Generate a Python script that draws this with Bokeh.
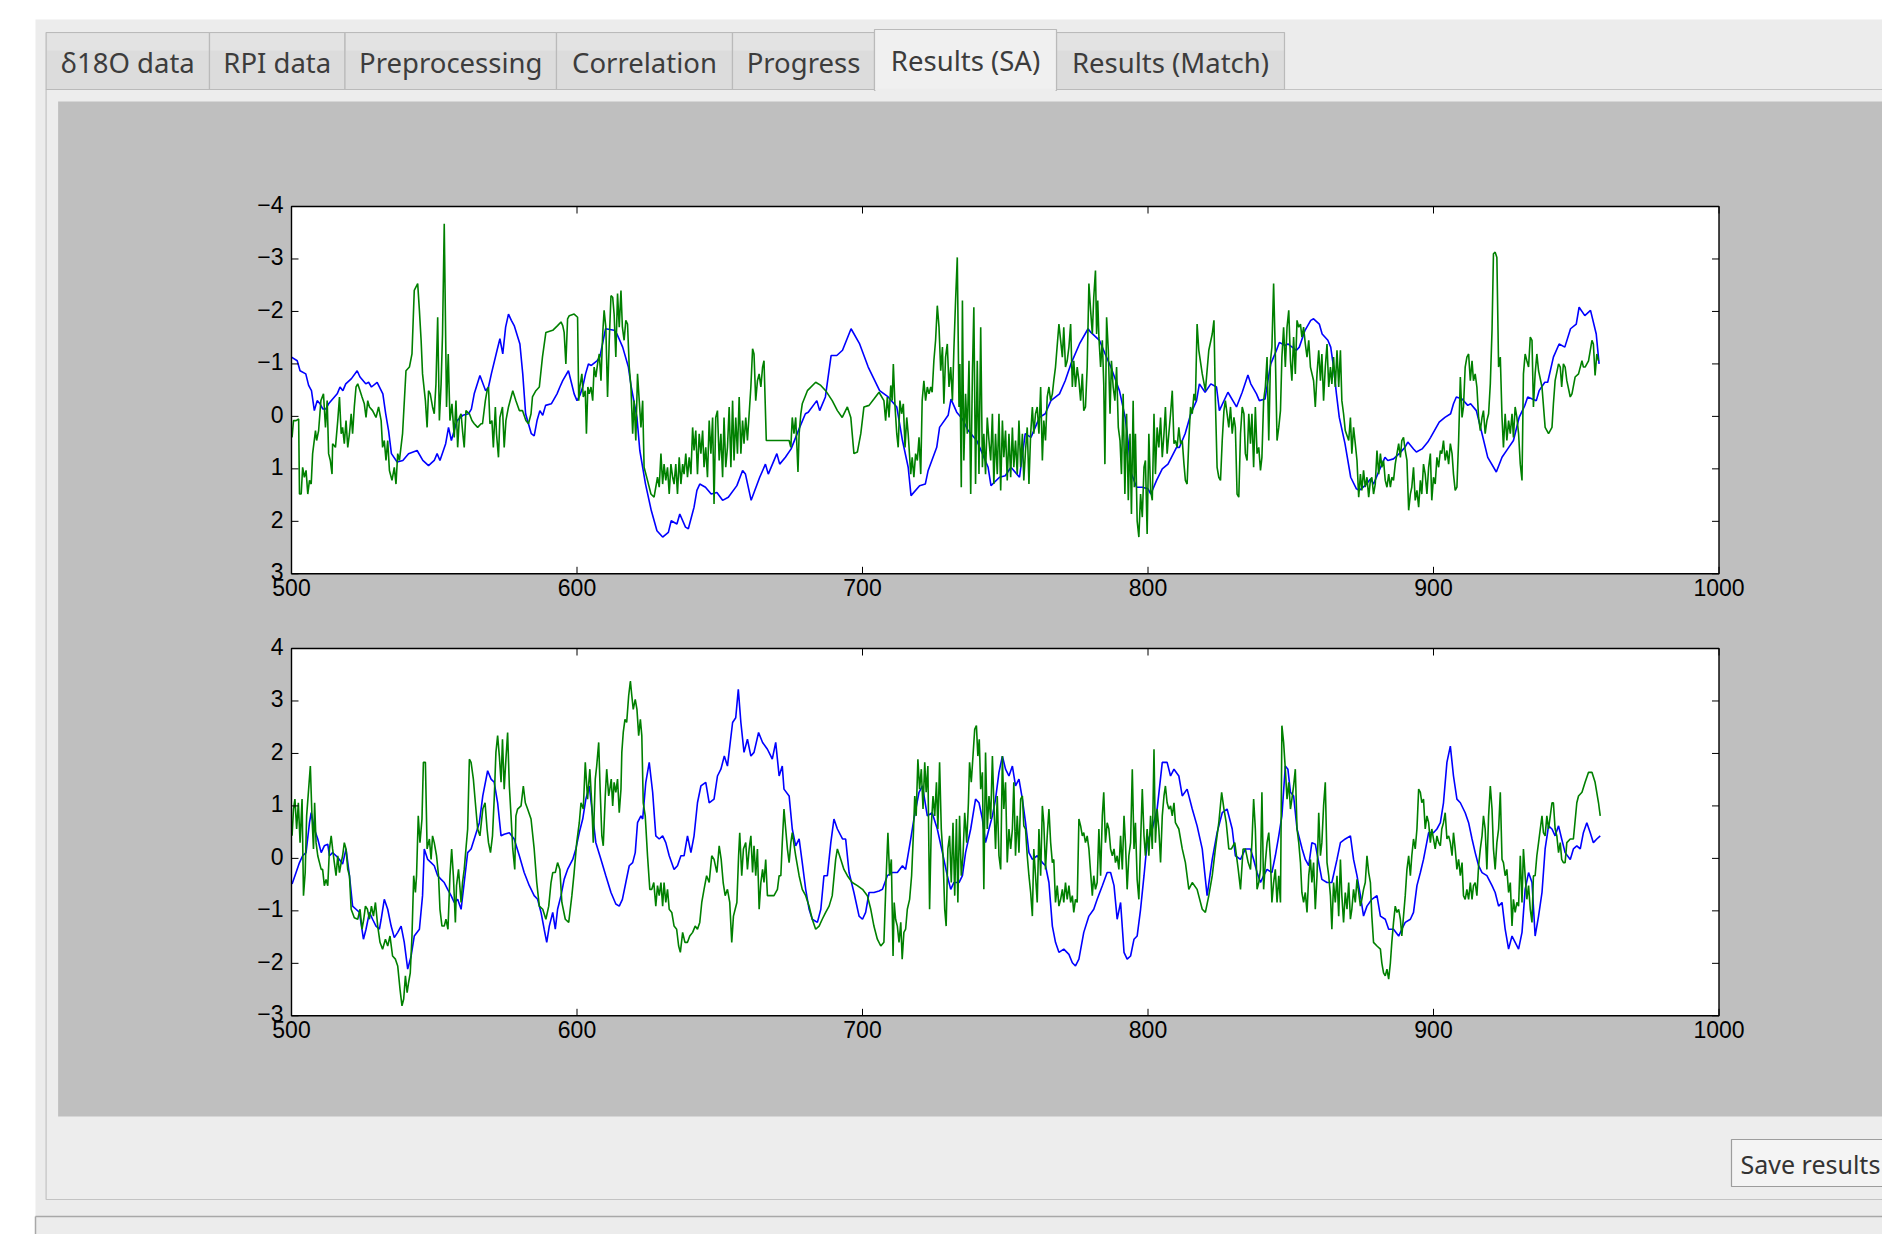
from bokeh.plotting import figure
from bokeh.models import Range1d
from bokeh.embed import file_html
from bokeh.resources import INLINE
from bokeh.core.properties import value

# ---------------- data ----------------
tab_labels = ["δ18O data", "RPI data", "Preprocessing", "Correlation", "Progress", "Results (SA)", "Results (Match)"]
selected_tab = "Results (SA)"
button_label = "Save results"

x_ticks = [500, 600, 700, 800, 900, 1000]
top_y_ticks = [-4, -3, -2, -1, 0, 1, 2, 3]
bot_y_ticks = [4, 3, 2, 1, 0, -1, -2, -3]

top_blue = [
    (500,-1.13),(502,-1.06),(503,-0.87),(505,-0.81),(506,-0.59),(507,-0.49),(508,-0.11),(509,-0.30),(510,-0.24),
    (511,-0.14),(512,-0.14),(513,-0.24),(516,-0.43),(517,-0.56),(518,-0.49),(519,-0.62),(521,-0.72),(523,-0.87),
    (524,-0.75),(526,-0.62),(527,-0.65),(528,-0.56),(530,-0.65),(532,-0.43),(533,-0.05),(534,0.27),(535,0.71),
    (537,0.87),(539,0.84),(541,0.71),(544,0.65),(546,0.84),(548,0.94),(550,0.84),(551,0.71),(552,0.84),(554,0.52),
    (555,0.21),(556,0.46),(558,0.08),(560,-0.02),(562,-0.05),(563,-0.14),(564,-0.43),(566,-0.78),(568,-0.49),
    (569,-0.56),(570,-0.81),(572,-1.26),(573,-1.48),(574,-1.19),(575,-1.70),(576,-1.95),(577,-1.83),(578,-1.73),
    (580,-1.38),(581,-0.81),(582,-0.05),(584,0.33),(585,0.37),(586,0.08),(587,-0.11),(588,-0.02),(589,-0.21),
    (591,-0.24),(593,-0.43),(594,-0.56),(595,-0.68),(597,-0.87),(598,-0.65),(599,-0.43),(600,-0.30),(601,-0.40),
    (602,-0.56),(603,-0.81),(604,-1.00),(605,-0.97),(607,-1.06),(608,-1.13),(610,-1.67),(613,-1.64),(614,-1.57),
    (616,-1.32),(618,-0.94),(619,-0.56),(621,0.02),(622,0.65),(624,1.29),(626,1.79),(628,2.18),(630,2.30),
    (632,2.21),(633,1.99),(635,2.05),(636,1.86),(638,2.11),(639,2.14),(641,1.73),(642,1.41),(643,1.29),(645,1.35),
    (647,1.48),(649,1.45),(651,1.60),(653,1.54),(656,1.32),(658,1.03),(659,1.10),(661,1.60),(664,1.16),(666,0.91),
    (667,1.10),(670,0.71),(671,0.91),(673,0.78),(675,0.62),(678,0.21),(680,-0.05),(681,-0.08),(684,-0.30),
    (685,-0.11),(687,-0.37),(689,-1.16),(691,-1.16),(693,-1.26),(696,-1.67),(699,-1.38),(702,-0.94),(706,-0.49),
    (709,-0.37),(712,-0.18),(714,0.46),(716,0.97),(717,1.51),(720,1.32),(722,1.29),(723,1.03),(726,0.59),(727,0.21),
    (730,-0.02),(731,-0.33),(733,-0.08),(735,0.05),(737,0.27),(740,0.46),(742,0.71),(744,0.97),(745,1.32),
    (748,1.16),(750,1.13),(752,0.97),(755,1.16),(757,0.33),(759,0.40),(762,0.02),(764,-0.05),(766,-0.30),
    (769,-0.43),(771,-0.68),(773,-1.00),(776,-1.38),(779,-1.67),(780,-1.60),(783,-1.45),(785,-1.19),(787,-0.94),
    (790,-0.49),(792,0.02),(793,0.46),(794,1.06),(796,1.35),(798,1.35),(800,1.38),(801,1.48),(803,1.22),(805,1.00),
    (807,0.91),(810,0.59),(811,0.59),(813,0.33),(815,-0.05),(817,-0.30),(818,-0.62),(820,-0.46),(822,-0.62),
    (824,-0.56),(825,-0.11),(828,-0.46),(831,-0.18),(833,-0.46),(835,-0.79),(836,-0.62),(838,-0.43),(839,-0.30),
    (841,-0.33),(842,-0.68),(843,-1.00),(845,-1.26),(846,-1.41),(848,-1.35),(849,-1.38),(852,-1.26),(853,-1.32),
    (855,-1.64),(857,-1.83),(858,-1.86),(860,-1.76),(861,-1.57),(863,-1.45),(864,-1.32),(865,-0.94),(866,-0.43),
    (867,0.02),(869,0.52),(871,1.16),(873,1.38),(874,1.41),(876,1.32),(878,1.19),(879,1.29),(881,1.03),(883,0.78),
    (884,0.84),(886,0.81),(888,0.71),(890,0.59),(891,0.49),(893,0.62),(894,0.68),(896,0.62),(898,0.49),(899,0.40),
    (902,0.11),(904,0.02),(906,-0.05),(907,-0.24),(908,-0.37),(910,-0.33),(912,-0.21),(913,-0.24),(915,-0.11),
    (917,0.33),(919,0.78),(922,1.06),(924,0.78),(926,0.62),(928,0.46),(930,0.02),(932,-0.21),(933,-0.37),
    (936,-0.30),(937,-0.49),(939,-0.65),(940,-0.65),(942,-1.13),(944,-1.38),(946,-1.32),(948,-1.67),(950,-1.76),
    (951,-2.08),(953,-1.92),(955,-2.02),(957,-1.57),(958,-1.00),
]

top_green = [
    (500.2,0.40),(500.7,0.08),(501.6,0.08),(502.5,0.05),(502.8,1.48),(503.4,1.48),(503.9,0.97),(504.5,1.16),
    (505.1,1.03),(505.7,1.48),(506.3,1.22),(506.9,1.29),(507.4,0.71),(508.4,0.27),(508.8,0.46),(509.5,0.27),
    (510.3,-0.30),(511.2,-0.43),(511.9,0.21),(512.5,-0.30),(513.0,0.71),(513.6,0.84),(514.2,1.10),(514.4,0.52),
    (515.4,0.59),(516.2,0.08),(516.8,-0.37),(517.4,0.33),(517.9,0.21),(518.5,0.52),(519.1,0.08),(519.7,0.59),
    (520.3,0.33),(520.9,-0.05),(521.4,0.33),(522.0,-0.18),(522.6,-0.56),(523.2,-0.62),(524.0,-0.49),(524.7,-0.37),
    (525.5,-0.24),(526.1,0.02),(526.7,-0.30),(527.3,-0.18),(528.4,-0.11),(529.6,0.02),(530.5,-0.18),(531.4,0.08),
    (531.9,0.59),(532.5,0.46),(533.1,0.84),(533.7,0.46),(534.3,1.03),(535.2,1.22),(536.0,0.97),(536.6,1.29),
    (537.2,0.71),(537.8,0.84),(538.9,0.33),(540.1,-0.87),(541.3,-0.94),(542.2,-1.19),(543.0,-2.40),(544.2,-2.53),
    (544.8,-2.02),(545.4,-1.45),(545.9,-0.81),(546.9,-0.30),(547.5,0.21),(548.0,-0.49),(548.6,-0.43),(549.4,-0.18),
    (550.0,-0.05),(550.6,-0.62),(551.2,-1.89),(551.8,0.08),(552.4,-0.62),(552.9,-1.57),(553.5,-3.67),(554.3,-0.18),
    (554.9,-1.19),(555.5,0.08),(556.2,-0.24),(557.0,0.40),(557.6,-0.30),(558.2,0.59),(558.8,0.02),(559.4,-0.05),
    (559.9,0.27),(560.5,0.59),(561.1,-0.11),(562.3,-0.05),(563.2,0.08),(564.0,0.14),(565.2,0.21),(566.4,0.14),
    (566.9,0.14),(567.9,-0.30),(568.5,-0.49),(569.0,-0.56),(569.5,0.14),(570.2,0.08),(570.7,0.59),(571.4,-0.18),
    (571.8,0.33),(572.5,0.78),(573.0,0.02),(573.9,-0.18),(574.5,0.59),(575.1,0.08),(576.0,-0.18),(577.5,-0.49),
    (578.6,-0.30),(579.8,-0.11),(580.9,-0.11),(582.1,0.08),(583.0,0.14),(583.9,-0.05),(584.4,-0.37),(585.6,-0.49),
    (586.8,-0.56),(587.9,-1.13),(589.1,-1.60),(591.5,-1.64),(593.2,-1.73),(594.4,-1.80),(595.0,-1.73),(595.5,-1.60),
    (596.1,-1.00),(596.7,-1.86),(597.3,-1.92),(599.0,-1.95),(600.2,-1.89),(600.6,-0.30),(601.0,-0.56),(601.7,-0.81),
    (602.2,-0.37),(602.9,-0.49),(603.3,0.33),(603.8,-0.56),(604.3,-0.43),(604.9,-0.56),(605.5,-0.30),(606.0,-0.94),
    (606.6,-0.75),(607.2,-1.00),(607.8,-1.19),(608.4,-0.68),(609.0,-1.57),(609.5,-2.02),(610.1,-1.70),(610.7,-0.37),
    (611.3,-1.45),(611.9,-2.30),(612.5,-2.27),(613.0,-1.95),(613.6,-1.13),(614.2,-2.34),(614.8,-1.70),(615.4,-2.40),
    (615.9,-1.70),(616.5,-1.45),(617.1,-1.83),(617.7,-1.76),(618.3,-0.94),(618.9,-0.56),(619.5,0.33),(620.0,-0.30),
    (620.6,0.46),(621.2,-0.81),(621.8,-0.30),(622.4,0.21),(623.0,-0.30),(623.5,0.97),(624.7,1.22),(625.9,1.48),
    (627.0,1.54),(628.2,1.16),(628.8,1.35),(629.4,0.71),(630.0,1.29),(630.5,0.91),(631.1,1.22),(631.7,0.97),
    (632.3,1.48),(632.9,0.91),(633.5,1.16),(634.0,1.29),(634.6,0.91),(635.2,1.48),(635.8,0.78),(636.4,1.29),
    (637.0,0.91),(637.5,1.10),(638.1,0.71),(638.7,1.16),(639.3,0.78),(639.9,1.10),(640.5,0.21),(641.0,0.65),
    (641.6,0.27),(642.2,1.10),(642.8,0.33),(643.4,0.71),(644.0,0.27),(644.5,0.97),(645.1,0.59),(645.7,1.16),
    (646.3,0.08),(646.9,0.71),(647.5,0.02),(648.0,1.67),(648.6,0.02),(649.2,-0.11),(649.8,0.84),(650.4,0.33),
    (651.0,1.16),(651.5,0.02),(652.1,0.97),(652.7,0.59),(653.3,-0.18),(653.9,0.97),(654.5,-0.30),(655.0,0.84),
    (655.6,0.02),(656.2,0.71),(656.8,-0.37),(657.4,0.71),(658.0,0.08),(658.5,0.52),(659.1,0.02),(659.7,0.46),
    (660.3,-0.05),(660.9,-0.56),(661.5,-1.29),(662.0,-1.19),(662.6,-0.30),(663.2,-0.68),(663.8,-0.81),(664.4,-0.56),
    (665.0,-0.94),(665.5,-1.06),(666.3,0.46),(674.3,0.46),(674.9,0.59),(675.4,0.02),(676.0,0.33),(676.6,0.02),
    (677.4,1.06),(677.8,0.33),(678.4,-0.05),(678.9,-0.24),(680.7,-0.49),(683.6,-0.65),(685.4,-0.59),(687.1,-0.49),
    (689.4,-0.30),(691.2,-0.11),(692.9,0.02),(694.7,-0.18),(695.9,0.02),(697.0,0.71),(698.2,0.68),(699.4,0.33),
    (700.5,-0.18),(702.3,-0.21),(704.0,-0.33),(705.8,-0.46),(707.5,-0.30),(708.1,0.08),(708.7,-0.37),(709.3,0.02),
    (709.9,-0.59),(710.4,-0.30),(710.8,-1.00),(711.4,-0.18),(712.0,0.33),(712.5,0.59),(713.1,-0.30),(713.7,-0.05),
    (714.3,-0.24),(714.9,0.59),(715.5,0.02),(716.0,0.33),(716.9,1.10),(717.4,0.78),(718.0,1.16),(718.6,0.71),
    (719.2,0.84),(719.8,0.40),(720.4,1.10),(720.9,-0.30),(721.5,-0.68),(722.1,-0.30),(722.7,-0.56),(723.3,-0.43),
    (723.9,-0.56),(724.4,-0.46),(725.0,-1.06),(725.6,-1.45),(726.2,-2.11),(726.8,-1.70),(727.4,-0.87),(728.0,-1.32),
    (728.5,-0.24),(729.1,-1.13),(729.7,-1.38),(730.3,-0.56),(730.9,-0.94),(731.5,-0.30),(732.0,-1.26),(732.6,-2.21),
    (733.2,-3.03),(733.8,-0.18),(734.1,-1.00),(734.6,1.35),(735.0,-2.21),(735.5,0.84),(736.1,-0.43),(736.7,0.33),
    (737.3,-1.06),(737.9,1.48),(738.5,-0.81),(739.0,-2.08),(739.6,1.29),(740.2,-1.06),(740.8,1.10),(741.4,-1.70),
    (742.0,0.97),(742.5,0.33),(743.1,1.10),(743.7,0.02),(744.3,0.46),(744.9,0.84),(745.5,-0.05),(746.0,1.29),
    (746.6,0.33),(747.2,1.10),(747.8,-0.05),(748.4,1.41),(749.0,0.08),(749.5,0.78),(750.1,0.27),(750.7,1.22),
    (751.3,0.33),(751.9,1.16),(752.5,0.21),(753.0,0.97),(753.6,0.46),(754.2,1.10),(754.8,0.08),(755.4,0.97),
    (756.0,0.33),(756.5,1.22),(757.1,0.65),(757.7,0.21),(758.3,1.29),(758.9,0.33),(759.5,-0.18),(760.0,0.33),
    (760.6,-0.05),(761.2,-0.18),(761.8,0.33),(762.4,-0.56),(763.0,0.84),(763.5,0.08),(764.1,0.46),(764.7,-0.37),
    (765.3,-0.56),(765.9,-0.30),(766.5,-0.43),(767.0,-0.68),(767.6,-0.94),(768.8,-1.76),(769.4,-1.45),(770.0,-1.13),
    (770.5,-1.70),(771.1,-0.94),(771.7,-1.06),(772.3,-1.32),(772.9,-1.76),(773.5,-0.56),(774.0,-1.06),(774.6,-0.56),
    (775.2,-0.94),(775.8,-0.68),(776.4,-0.30),(777.0,-0.81),(777.5,-0.11),(778.1,-0.18),(778.7,-0.94),(779.3,-2.53),
    (779.9,-2.02),(780.5,-1.57),(781.0,-2.27),(781.6,-2.78),(782.0,-1.57),(782.4,-2.21),(782.8,-1.51),(783.4,-0.94),
    (784.0,-1.45),(784.5,-0.62),(784.9,0.91),(785.5,-1.89),(786.1,-1.26),(786.7,-0.05),(787.2,-1.06),(787.8,-0.56),
    (788.4,-0.30),(789.0,-0.94),(789.6,0.21),(790.2,0.46),(790.7,1.10),(791.3,-0.43),(791.9,1.48),(792.5,-0.05),
    (793.1,1.60),(793.7,0.33),(794.2,1.86),(794.8,-0.30),(795.2,1.35),(795.6,0.33),(796.2,1.99),(796.8,2.30),
    (797.4,1.48),(798.0,1.92),(798.6,0.97),(799.1,0.84),(799.7,2.24),(800.3,0.33),(800.9,1.41),(801.5,1.60),
    (802.1,-0.05),(802.6,1.10),(803.2,0.21),(803.8,0.59),(804.4,0.02),(805.0,0.78),(805.6,0.33),(806.1,-0.18),
    (806.7,0.71),(807.3,0.33),(807.9,-0.05),(808.5,-0.49),(809.1,0.52),(809.6,0.46),(810.2,0.59),(810.8,0.21),
    (811.4,0.52),(812.0,0.46),(812.6,0.91),(813.1,1.22),(813.7,1.29),(814.3,0.46),(814.9,-0.18),(815.5,-0.05),
    (816.1,-0.43),(816.6,-0.30),(817.2,-1.76),(817.8,-1.26),(819.0,-0.81),(820.1,-0.49),(821.3,-1.26),(822.5,-1.57),
    (823.1,-1.83),(823.6,-0.30),(824.2,0.97),(824.8,1.16),(825.4,1.22),(826.0,0.46),(826.6,-0.11),(827.1,-0.30),
    (827.7,-0.05),(828.3,0.21),(828.9,-0.18),(829.5,0.33),(830.1,0.02),(830.6,0.21),(831.2,1.48),(831.8,1.54),
    (832.4,0.33),(833.0,-0.18),(833.6,-0.05),(834.1,0.71),(834.7,0.84),(835.3,-0.05),(835.9,0.52),(836.4,-0.05),
    (837.0,0.97),(837.6,-0.18),(838.2,0.71),(838.8,0.59),(839.4,1.03),(839.9,0.78),(840.5,-0.30),(841.1,-0.56),
    (841.7,-1.13),(842.3,0.46),(842.9,-1.06),(843.4,-1.32),(844.0,-2.53),(844.6,-1.19),(845.2,0.46),(845.8,0.21),
    (846.4,-0.11),(846.9,-1.13),(847.5,-1.70),(848.1,-0.94),(848.7,-1.70),(849.3,-2.02),(849.9,-1.06),(850.4,-0.68),
    (851.0,-1.51),(851.6,-0.81),(852.2,-1.83),(852.8,-1.70),(853.4,-1.76),(853.9,-1.51),(854.5,-1.70),(855.1,-1.38),
    (855.7,-1.13),(856.3,-1.45),(856.9,-0.94),(858.0,-0.68),(858.6,-0.18),(859.2,-0.81),(859.8,-1.26),(860.4,-0.68),
    (860.9,-1.19),(861.5,-0.30),(862.1,-0.94),(862.7,-1.38),(863.3,-0.56),(863.9,-0.94),(864.4,-0.62),(865.0,-1.13),
    (865.6,-0.56),(866.2,-1.26),(866.8,-0.56),(867.4,-1.26),(867.9,-0.30),(868.5,-0.05),(869.1,0.27),(870.3,0.46),
    (870.9,0.02),(871.4,0.71),(872.0,0.21),(872.6,0.52),(873.2,0.84),(873.8,1.54),(874.4,1.10),(874.9,1.41),
    (875.5,1.03),(876.1,1.35),(876.7,1.16),(877.3,1.54),(877.9,1.22),(878.4,1.16),(879.0,1.48),(879.6,1.29),
    (880.2,0.65),(880.8,1.10),(881.4,0.71),(881.9,0.97),(882.5,0.84),(883.1,1.22),(883.7,1.35),(884.3,1.10),
    (884.9,1.35),(885.4,1.16),(886.0,1.22),(886.6,0.91),(887.2,0.71),(887.8,0.52),(888.4,0.78),(888.9,0.46),
    (889.5,0.40),(890.1,0.65),(890.7,0.84),(891.3,1.79),(891.9,1.48),(892.4,1.35),(893.0,0.97),(893.6,1.60),
    (894.2,1.41),(894.8,1.73),(895.4,1.22),(895.9,1.48),(896.5,0.91),(897.1,1.10),(897.7,1.48),(898.3,0.97),
    (898.9,0.71),(899.4,1.60),(900.0,1.16),(900.6,1.29),(901.2,0.78),(901.8,0.97),(902.4,0.65),(902.9,0.71),
    (903.5,0.46),(904.1,0.84),(904.7,0.65),(905.3,0.91),(905.9,0.52),(906.5,0.71),(907.0,1.10),(907.6,1.41),
    (908.2,1.35),(908.8,0.46),(909.4,-0.75),(910.0,0.02),(910.5,-0.18),(911.1,-0.94),(911.7,-1.13),(912.3,-1.19),
    (912.9,-0.68),(913.5,-1.06),(914.0,-0.68),(914.6,-0.81),(915.2,-0.56),(915.8,0.02),(916.4,0.27),(917.0,0.02),
    (917.5,-0.11),(918.1,0.33),(918.7,0.08),(919.3,-0.05),(919.9,-0.62),(920.5,-1.64),(921.0,-3.10),(921.6,-3.13),
    (922.2,-3.03),(922.8,-0.94),(923.4,-1.13),(924.0,0.02),(924.5,0.59),(925.1,-0.05),(925.7,0.46),(926.3,0.08),
    (926.9,0.33),(927.5,-0.05),(928.0,0.40),(928.6,-0.18),(929.2,0.02),(929.8,0.33),(930.4,0.91),(931.0,1.22),
    (931.5,-0.81),(932.1,-1.19),(932.7,-1.06),(933.3,-0.94),(933.9,-1.51),(934.5,-1.45),(935.0,-0.18),(935.6,-0.81),
    (936.2,-1.19),(936.8,-0.87),(938.0,-0.56),(939.1,0.21),(940.3,0.33),(941.5,0.21),(942.0,-0.24),(942.6,-0.68),
    (943.8,-1.00),(944.4,-0.94),(944.9,-0.56),(945.5,-1.00),(946.1,-0.94),(946.7,-0.68),(947.9,-0.37),(948.5,-0.43),
    (949.6,-0.75),(950.8,-0.81),(952.0,-1.06),(952.5,-0.94),(953.1,-0.94),(954.3,-1.06),(955.5,-1.45),(956.0,-1.38),
    (956.6,-0.78),(957.2,-1.19),(957.8,-1.06),
]

bot_blue = [
    (500.2,-0.49),(501.6,-0.27),(502.8,-0.08),(503.9,0.05),(505.1,0.11),(506.3,0.68),(506.9,0.87),(508.0,0.56),
    (509.2,0.37),(510.4,0.11),(511.5,0.24),(512.7,0.27),(513.3,0.05),(514.4,0.11),(515.6,0.05),(516.8,-0.02),
    (517.9,-0.11),(519.1,0.18),(520.3,-0.33),(521.4,-0.91),(522.6,-0.97),(523.8,-1.03),(525.2,-1.54),(526.1,-1.35),
    (527.3,-1.03),(528.4,-1.16),(529.6,-1.29),(530.8,-1.35),(531.4,-1.16),(532.5,-0.78),(533.7,-0.97),(534.9,-1.29),
    (536.0,-1.51),(537.2,-1.41),(538.4,-1.29),(539.5,-1.60),(540.7,-2.11),(541.9,-1.86),(543.0,-1.48),(544.8,-1.35),
    (545.9,-0.71),(546.5,0.18),(547.7,-0.02),(548.9,-0.08),(550.0,-0.14),(551.2,-0.33),(552.4,-0.40),(553.5,-0.46),
    (554.7,-0.59),(555.9,-0.71),(557.0,-0.84),(558.2,-0.78),(559.4,-0.97),(560.5,-0.46),(561.7,0.11),(562.9,0.18),
    (564.0,0.37),(565.8,0.68),(567.0,1.19),(568.7,1.67),(569.9,1.51),(571.0,1.45),(572.2,1.06),(573.4,0.43),
    (574.5,0.46),(576.3,0.49),(578.0,0.37),(579.8,0.05),(581.5,-0.27),(583.3,-0.52),(585.0,-0.71),(586.2,-0.78),
    (587.4,-1.03),(588.5,-1.35),(589.4,-1.60),(590.3,-1.29),(591.5,-1.03),(592.4,-1.35),(593.2,-0.97),(594.4,-0.71),
    (595.5,-0.40),(596.7,-0.21),(598.5,-0.02),(599.6,0.18),(600.8,0.49),(602.0,0.75),(603.1,1.13),(604.3,1.38),
    (605.5,0.81),(606.6,0.30),(608.4,-0.02),(610.1,-0.33),(611.9,-0.65),(613.6,-0.87),(614.8,-0.91),(615.9,-0.78),
    (617.1,-0.46),(618.3,-0.14),(619.5,-0.08),(620.4,0.11),(621.2,0.68),(622.4,0.81),(623.0,0.75),(624.1,1.45),
    (625.3,1.83),(626.5,1.26),(627.6,0.43),(628.8,0.37),(630.0,0.43),(631.1,0.30),(632.3,0.05),(634.0,-0.21),
    (635.2,-0.14),(636.4,0.05),(637.5,0.05),(638.7,0.43),(639.9,0.11),(641.0,0.43),(642.2,1.06),(643.4,1.38),
    (645.1,1.45),(646.3,1.06),(648.0,1.13),(649.2,1.57),(650.4,1.70),(651.6,1.95),(652.7,1.76),(654.5,2.59),
    (655.6,2.68),(656.5,3.22),(657.4,2.59),(658.5,2.02),(659.7,2.27),(660.9,1.95),(662.0,2.02),(663.6,2.40),
    (665.0,2.21),(666.7,2.08),(667.9,1.95),(668.4,1.89),(669.6,2.21),(670.8,1.57),(671.9,1.76),(672.5,1.32),
    (674.3,1.19),(675.4,0.56),(676.6,0.24),(677.8,0.37),(678.9,-0.08),(680.1,-0.59),(681.3,-0.97),(682.4,-1.16),
    (684.2,-1.22),(685.4,-0.97),(686.5,-0.33),(687.7,-0.33),(688.9,0.30),(690.0,0.75),(691.2,0.56),(693.0,0.37),
    (694.1,0.37),(695.3,-0.27),(697.0,-0.65),(698.8,-1.10),(700.0,-1.16),(701.1,-1.03),(702.3,-0.65),(704.0,-0.65),
    (705.8,-0.62),(707.0,-0.59),(708.7,-0.33),(710.4,-0.27),(712.2,-0.27),(714.0,-0.14),(715.1,-0.21),(716.9,0.37),
    (718.0,0.75),(719.8,1.26),(721.0,1.38),(722.7,0.81),(724.4,0.87),(726.2,0.56),(728.0,0.11),(729.7,-0.33),
    (730.9,-0.59),(732.0,-0.46),(733.8,-0.46),(735.0,-0.33),(736.1,0.11),(737.9,0.56),(739.6,1.13),(740.8,1.06),
    (742.0,0.75),(743.1,0.30),(744.3,0.56),(745.5,0.81),(746.6,1.13),(747.8,1.64),(749.0,1.95),(750.1,1.70),
    (751.3,1.57),(752.5,1.76),(753.6,1.38),(754.8,1.51),(756.0,1.13),(757.1,0.68),(758.3,0.11),(759.5,-0.02),
    (761.2,0.05),(763.0,-0.08),(764.1,-0.14),(765.3,-0.46),(766.5,-1.29),(767.6,-1.60),(768.8,-1.79),(770.5,-1.73),
    (772.3,-1.83),(773.5,-1.99),(774.6,-2.05),(775.8,-1.92),(777.5,-1.41),(779.3,-1.10),(781.0,-0.97),(782.2,-0.78),
    (784.0,-0.52),(785.7,-0.27),(786.9,-0.27),(788.1,-0.52),(789.2,-1.16),(790.4,-0.84),(791.6,-1.79),(792.7,-1.92),
    (793.9,-1.86),(795.1,-1.54),(796.2,-1.48),(797.4,-0.97),(798.6,-0.33),(799.7,0.30),(801.5,0.56),(803.2,0.94),
    (805.0,1.83),(806.7,1.83),(807.9,1.57),(809.1,1.70),(810.8,1.57),(812.0,1.19),(813.7,1.32),(815.5,0.94),
    (817.2,0.62),(819.0,0.18),(820.7,-0.71),(822.5,-0.02),(824.2,0.49),(826.0,0.87),(827.7,0.94),(829.5,0.56),
    (830.6,0.05),(832.4,-0.02),(834.1,0.18),(835.9,0.18),(837.0,-0.02),(838.2,-0.27),(839.4,-0.46),(840.5,-0.33),
    (841.7,-0.21),(843.4,-0.27),(844.6,0.05),(845.8,0.43),(846.9,0.81),(848.1,1.76),(849.0,1.70),(849.9,1.26),
    (851.0,1.19),(852.2,0.56),(854.0,0.18),(855.1,-0.02),(856.3,-0.14),(857.4,0.30),(858.6,0.27),(859.8,-0.08),
    (860.9,-0.40),(862.7,-0.46),(864.4,-0.46),(866.2,-0.02),(867.4,0.30),(869.1,0.37),(870.9,0.43),(872.0,-0.02),
    (873.2,-0.33),(874.4,-0.71),(875.5,-1.10),(876.7,-0.91),(878.4,-0.78),(880.2,-0.71),(881.4,-1.10),(883.1,-1.16),
    (884.3,-1.35),(886.0,-1.35),(887.8,-1.48),(888.9,-1.35),(890.1,-1.22),(891.9,-1.16),(893.0,-1.03),(894.2,-0.52),
    (895.4,-0.27),(896.5,-0.02),(898.3,0.49),(900.0,0.49),(901.2,0.56),(902.4,0.68),(903.5,1.06),(904.7,1.83),
    (905.9,2.14),(907.0,1.57),(908.2,1.13),(909.4,1.06),(911.1,0.87),(912.3,0.68),(913.5,0.37),(914.6,0.11),
    (915.8,-0.14),(917.0,-0.27),(918.7,-0.33),(920.5,-0.52),(921.6,-0.65),(922.8,-0.91),(924.0,-0.84),(925.1,-1.35),
    (926.3,-1.73),(927.5,-1.48),(928.6,-1.60),(929.8,-1.73),(931.0,-1.41),(932.1,-0.59),(933.3,-0.27),(934.5,-0.46),
    (935.6,-1.48),(936.8,-1.10),(938.0,-0.65),(939.1,0.18),(940.3,0.62),(941.5,0.56),(942.6,0.43),(943.8,0.62),
    (944.9,0.37),(946.1,0.11),(947.9,-0.02),(949.0,0.18),(950.2,0.24),(951.4,0.18),(952.5,0.49),(953.7,0.68),
    (954.9,0.49),(956.0,0.30),(957.2,0.37),(958.4,0.43),
]

bot_green = [
    (500.2,0.43),(500.7,0.94),(501.2,1.13),(501.8,0.56),(502.4,1.06),(503.0,0.30),(503.7,1.13),(504.2,-0.71),
    (504.8,-0.27),(505.3,0.81),(506.0,1.32),(506.6,1.76),(507.2,0.75),(507.7,0.18),(508.1,1.06),(508.6,0.30),
    (509.2,0.05),(509.8,-0.08),(510.4,-0.21),(510.9,-0.21),(511.5,-0.52),(512.1,-0.40),(512.7,-0.52),(513.3,0.18),
    (513.9,0.43),(514.4,0.18),(515.0,-0.08),(515.6,-0.33),(516.2,0.05),(516.8,-0.27),(517.4,-0.08),(517.9,0.05),
    (518.5,0.30),(519.1,0.18),(519.7,-0.21),(520.3,-0.33),(520.9,-0.97),(522.0,-1.13),(523.2,-1.16),(524.0,-0.97),
    (524.7,-1.35),(525.3,-1.16),(525.9,-0.91),(526.6,-0.97),(527.3,-1.16),(528.0,-0.91),(528.7,-1.10),(529.4,-0.84),
    (530.2,-1.29),(531.0,-1.60),(531.9,-1.73),(532.9,-1.54),(533.7,-1.67),(534.5,-1.48),(535.4,-1.86),(536.4,-1.92),
    (537.2,-2.05),(538.0,-2.49),(538.7,-2.81),(539.3,-2.68),(539.9,-2.24),(540.5,-2.56),(541.0,-2.37),(541.6,-2.18),
    (542.2,-1.48),(542.8,-0.33),(543.4,-0.65),(543.8,-0.33),(544.4,0.81),(545.0,0.30),(545.7,0.75),(546.2,1.83),
    (546.9,1.83),(547.5,0.18),(548.3,0.37),(548.9,-0.02),(549.4,0.43),(550.0,0.30),(550.8,0.05),(551.5,-0.33),
    (552.0,-0.97),(552.7,-1.29),(553.5,-1.29),(554.1,-1.16),(554.8,-1.35),(555.5,-0.33),(556.1,0.18),(556.7,-0.33),
    (557.4,-1.22),(557.8,-0.52),(558.5,-0.21),(559.4,-0.84),(559.9,-0.46),(560.5,-0.21),(561.1,0.18),(561.7,0.56),
    (562.3,1.89),(562.9,1.83),(563.7,1.51),(564.4,1.06),(565.2,0.56),(566.0,0.43),(567.0,0.94),(567.8,1.06),
    (568.5,0.56),(569.0,0.30),(569.7,0.11),(570.4,0.43),(571.0,1.13),(571.6,2.02),(572.2,2.34),(572.8,1.95),
    (573.4,1.45),(573.9,2.27),(574.5,1.32),(575.1,1.89),(575.7,2.40),(576.3,1.38),(576.9,0.81),(577.5,0.18),
    (578.2,-0.21),(578.6,0.81),(579.2,0.94),(580.4,1.00),(581.2,1.38),(581.9,1.06),(582.7,0.94),(583.9,0.75),
    (585.0,0.18),(585.9,-0.46),(586.8,-0.91),(588.0,-0.97),(589.1,-1.16),(590.1,-0.91),(590.9,-0.46),(591.5,-0.27),
    (592.4,-0.27),(593.2,-0.08),(594.0,-0.21),(594.7,-0.84),(595.9,-1.16),(597.1,-1.22),(598.2,-0.71),(599.0,-0.27),
    (599.9,0.30),(600.8,0.68),(601.4,1.06),(602.2,0.94),(602.9,1.83),(603.7,1.13),(604.5,1.70),(605.2,1.00),
    (605.7,0.30),(606.4,1.51),(606.9,1.76),(607.6,2.21),(608.1,1.32),(608.7,0.43),(609.2,0.24),(609.9,1.19),
    (610.4,1.70),(611.1,1.19),(611.5,1.32),(612.0,1.51),(612.5,1.00),(613.0,1.45),(613.6,1.26),(614.2,1.51),
    (614.8,0.87),(615.4,1.32),(615.7,2.02),(616.2,2.40),(616.8,2.65),(617.4,2.59),(618.1,3.10),(618.7,3.38),
    (619.2,3.10),(619.7,2.84),(620.4,3.03),(621.0,2.84),(621.6,2.34),(622.2,2.65),(622.7,2.34),(623.2,1.06),
    (623.9,0.81),(624.7,0.05),(625.5,-0.59),(626.2,-0.59),(626.9,-0.46),(627.6,-0.91),(628.2,-0.52),(628.8,-0.71),
    (629.4,-0.46),(630.0,-0.91),(630.5,-0.46),(631.1,-0.84),(631.7,-0.59),(632.3,-0.97),(633.2,-1.03),(634.0,-1.29),
    (634.9,-1.35),(635.6,-1.67),(636.2,-1.79),(637.0,-1.41),(637.8,-1.60),(638.7,-1.60),(639.5,-1.48),(640.5,-1.41),
    (641.4,-1.29),(642.2,-1.35),(643.0,-1.22),(643.7,-0.84),(644.5,-0.59),(645.4,-0.33),(646.3,-0.46),(647.2,0.05),
    (648.0,-0.02),(649.0,-0.27),(649.8,0.24),(650.5,-0.02),(651.2,-0.46),(651.9,-0.71),(652.7,-0.59),(653.5,-0.84),
    (654.2,-1.60),(654.8,-1.10),(655.4,-0.97),(656.0,-0.84),(656.6,0.05),(657.0,0.49),(657.7,-0.33),(658.3,0.18),
    (659.1,0.30),(659.7,-0.21),(660.3,0.18),(660.9,0.43),(661.5,-0.27),(662.0,0.24),(662.6,-0.33),(663.2,0.18),
    (663.8,-0.97),(664.4,-0.46),(665.0,-0.21),(665.5,-0.46),(666.1,-0.02),(666.7,-0.71),(667.9,-0.71),(669.0,-0.71),
    (670.2,-0.59),(670.8,-0.33),(671.4,-0.33),(671.9,0.30),(672.5,0.94),(673.1,0.56),(673.7,0.18),(674.3,-0.08),
    (674.9,0.30),(675.4,0.49),(676.6,0.05),(677.8,-0.33),(678.9,-0.59),(680.1,-0.71),(681.3,-0.91),(682.4,-1.16),
    (683.6,-1.35),(684.8,-1.29),(685.9,-1.16),(687.1,-1.03),(688.3,-0.91),(689.4,-0.71),(690.6,-0.02),(691.2,0.18),
    (692.4,-0.02),(693.5,-0.21),(694.7,-0.33),(696.4,-0.46),(698.2,-0.52),(700.0,-0.59),(701.7,-0.71),(702.9,-0.97),
    (704.0,-1.29),(705.2,-1.54),(706.4,-1.67),(707.5,-1.60),(708.3,-0.33),(708.9,0.49),(709.5,-0.33),(710.1,-0.02),
    (710.7,-1.86),(711.1,-0.84),(711.6,-1.16),(712.2,-1.29),(712.8,-1.60),(713.4,-1.22),(713.9,-1.92),(714.5,-1.41),
    (715.1,-1.35),(715.7,-0.97),(716.5,-0.78),(717.2,-0.33),(717.8,0.43),(718.3,1.19),(718.8,0.81),(719.4,1.89),
    (720.0,1.32),(720.6,1.70),(721.2,0.94),(721.8,1.83),(722.3,1.26),(722.9,1.76),(723.5,-0.97),(724.1,0.62),
    (724.7,1.19),(725.3,0.81),(725.9,1.45),(726.4,0.56),(727.0,1.83),(727.6,0.56),(728.2,0.05),(728.8,-0.97),
    (729.3,-1.29),(729.9,0.18),(730.5,0.43),(731.1,-0.46),(731.7,0.68),(732.3,-0.71),(732.9,0.75),(733.4,-0.84),
    (734.0,0.81),(734.6,-0.33),(735.2,0.05),(735.8,0.87),(736.5,0.30),(737.1,1.06),(737.5,1.83),(738.1,1.45),
    (738.7,1.95),(739.3,2.46),(739.9,2.53),(740.4,1.95),(740.9,2.27),(741.4,1.32),(742.0,1.64),(742.5,-0.59),
    (743.1,2.02),(743.7,0.56),(744.3,1.19),(744.9,0.75),(745.5,1.95),(746.0,1.06),(746.6,0.18),(747.2,1.19),
    (747.8,0.05),(748.4,-0.21),(749.0,1.95),(749.5,0.94),(750.1,1.45),(750.7,-0.08),(751.3,0.56),(751.9,0.18),
    (752.5,0.56),(753.0,1.45),(753.6,0.05),(754.2,0.81),(754.8,0.11),(755.4,1.13),(756.0,1.19),(756.5,0.62),
    (757.1,0.56),(757.7,0.05),(758.3,-0.33),(758.9,-0.65),(759.5,-1.10),(760.0,0.18),(760.6,-0.33),(761.2,-0.84),
    (761.8,0.56),(762.4,-0.33),(763.0,1.00),(763.5,0.68),(764.1,-0.21),(764.7,0.43),(765.3,0.94),(765.9,0.30),
    (766.5,-0.08),(767.0,-0.02),(767.6,-0.84),(768.2,-0.52),(768.8,-0.91),(769.4,-0.78),(770.0,-0.59),(770.5,-0.84),
    (771.1,-0.46),(771.7,-0.78),(772.3,-0.52),(772.9,-0.84),(773.5,-0.71),(774.0,-1.03),(774.6,-0.78),(775.2,-0.84),
    (775.8,0.75),(776.4,0.62),(777.0,0.43),(777.5,0.49),(778.1,0.30),(778.7,0.43),(779.3,0.18),(779.9,-0.27),
    (780.5,-0.71),(781.0,-0.33),(781.6,-0.59),(782.2,-0.46),(782.8,0.56),(783.4,-0.33),(784.0,0.81),(784.5,1.26),
    (785.1,0.30),(785.7,0.68),(786.3,0.56),(786.9,0.18),(787.5,0.05),(788.1,0.18),(788.6,-0.08),(789.2,0.05),
    (789.8,-0.21),(790.4,0.43),(791.0,-0.21),(791.6,0.81),(792.1,0.30),(792.7,-0.59),(793.3,0.05),(793.9,0.30),
    (794.5,1.70),(795.1,0.18),(795.6,0.68),(796.2,-0.40),(796.8,-0.78),(797.4,0.30),(798.0,1.32),(798.6,0.43),
    (799.1,0.05),(799.7,0.56),(800.3,0.05),(800.9,0.81),(801.5,0.18),(802.1,2.08),(802.6,0.30),(803.2,0.94),
    (803.8,0.56),(804.4,-0.08),(805.0,0.81),(805.6,1.19),(806.1,1.38),(806.7,1.06),(807.3,0.94),(807.9,1.00),
    (808.5,0.81),(809.1,1.06),(809.6,0.68),(810.8,0.56),(812.0,0.18),(813.1,-0.08),(814.3,-0.59),(815.5,-0.46),
    (817.2,-0.59),(819.0,-0.97),(820.1,-1.03),(821.3,-0.71),(822.5,-0.33),(823.6,0.18),(824.8,0.68),(825.8,1.26),
    (826.6,0.94),(827.4,0.68),(828.3,0.18),(829.2,0.18),(830.4,0.30),(831.6,-0.21),(832.4,-0.59),(833.3,0.18),
    (834.1,0.18),(835.1,-0.08),(835.9,-0.21),(836.4,0.30),(837.0,1.13),(837.6,0.56),(838.2,-0.59),(838.8,-0.46),
    (839.4,-0.21),(839.9,1.26),(840.5,-0.59),(841.1,-0.08),(841.7,0.30),(842.3,0.49),(842.9,-0.02),(843.4,-0.84),
    (844.0,-0.46),(844.6,-0.21),(845.2,-0.84),(845.8,-0.33),(846.4,-0.84),(846.9,2.53),(847.5,2.21),(848.1,1.70),
    (848.7,1.13),(849.3,1.45),(849.9,0.94),(850.4,1.13),(851.0,1.38),(851.6,1.70),(852.2,0.56),(852.8,0.30),
    (853.4,-0.08),(853.9,-0.65),(854.5,-0.84),(855.1,-0.65),(855.7,-1.03),(856.3,-0.33),(856.9,-0.02),(857.4,-0.46),
    (858.0,-0.08),(858.6,-0.97),(859.2,-0.33),(859.8,0.87),(860.4,0.05),(860.9,0.30),(861.5,1.00),(862.1,1.45),
    (862.7,-0.08),(863.3,-0.33),(863.9,-0.71),(864.4,-1.35),(865.0,-0.46),(865.6,-0.84),(866.2,-0.33),(866.8,-1.10),
    (867.4,-0.02),(867.9,-0.71),(868.5,-1.22),(869.1,-0.65),(869.7,-0.97),(870.3,-0.46),(870.9,-1.16),(871.4,-0.97),
    (872.0,-0.59),(872.6,-0.84),(873.2,-0.40),(873.8,-0.65),(874.4,-0.91),(874.9,-0.78),(875.5,-0.59),(876.1,-0.46),
    (876.7,0.05),(877.3,-0.27),(877.9,-0.46),(878.4,-1.10),(879.0,-1.60),(880.2,-1.67),(881.4,-1.73),(881.9,-1.99),
    (882.5,-2.18),(883.1,-2.24),(883.7,-2.11),(884.3,-2.30),(884.9,-1.99),(885.4,-1.60),(886.0,-1.22),(886.6,-0.91),
    (887.2,-1.03),(887.8,-0.97),(888.4,-1.16),(888.9,-1.48),(889.5,-1.10),(890.1,-0.71),(890.7,-0.21),(891.3,0.05),
    (891.9,-0.33),(892.4,0.05),(893.0,0.37),(893.6,0.18),(894.2,0.56),(894.8,1.32),(895.4,1.26),(895.9,1.06),
    (896.5,1.13),(897.1,0.56),(897.7,0.81),(898.3,0.68),(898.9,0.30),(899.4,0.56),(900.0,0.37),(900.6,0.18),
    (901.2,0.43),(901.8,0.30),(902.4,0.24),(902.9,0.56),(903.5,0.68),(904.1,0.87),(904.7,0.37),(905.3,0.43),
    (905.9,0.30),(906.5,0.05),(907.0,0.49),(907.6,0.18),(908.2,-0.21),(908.8,-0.02),(909.4,-0.33),(910.0,-0.08),
    (910.5,-0.71),(911.1,-0.78),(911.7,-0.59),(912.3,-0.78),(912.9,-0.46),(913.5,-0.78),(914.0,-0.52),(914.6,-0.46),
    (915.2,-0.71),(915.8,-0.14),(916.4,0.18),(917.0,0.43),(917.5,0.81),(918.1,0.56),(918.7,-0.21),(919.3,0.81),
    (919.9,1.38),(920.5,0.94),(921.0,0.18),(921.6,-0.21),(922.2,0.30),(922.8,0.56),(923.4,1.26),(924.0,-0.02),
    (924.5,-0.08),(925.1,-0.33),(925.7,-0.21),(926.3,-0.65),(926.9,-0.46),(927.5,-1.29),(928.0,-0.78),(928.6,-1.03),
    (929.2,-0.84),(929.8,-0.91),(930.4,0.05),(931.0,-0.84),(931.5,0.18),(932.1,-0.33),(932.7,-0.78),(933.3,-0.52),
    (933.9,-0.97),(934.5,-1.22),(935.0,-0.33),(935.6,-0.33),(936.2,0.05),(936.8,0.30),(937.4,0.56),(938.0,0.81),
    (938.5,0.49),(939.1,0.43),(939.7,0.81),(940.3,0.56),(940.9,0.81),(941.5,1.06),(942.0,1.06),(942.6,0.56),
    (943.2,0.43),(943.8,0.11),(944.4,0.30),(944.9,-0.02),(945.5,-0.08),(946.1,-0.08),(946.7,0.30),(947.9,0.37),
    (949.0,0.37),(950.2,1.06),(950.8,1.19),(952.0,1.26),(953.1,1.45),(954.3,1.64),(955.5,1.64),(956.6,1.45),
    (957.8,1.06),(958.4,0.81),
]

# ---------------- layout constants (pixels of the screenshot) ----------------
W, H = 1882, 1234
X0, Y0 = 0, 0
FL, FR = 291.0, 1718.5          # plot frame left/right
T1, B1 = 206.0, 573.3           # top plot frame
T2, B2 = 648.0, 1015.3          # bottom plot frame

tab_edges = [45.6, 209, 344.5, 556, 732, 874, 1056, 1284]

FONT_UI = "Noto Sans"
FONT_AX = "Liberation Sans"
BLUE, GREEN = "#0000ff", "#008000"

p = figure(width=W, height=H, x_range=Range1d(X0, X0 + W), y_range=Range1d(Y0 + H, Y0),
           output_backend="svg", toolbar_location=None, min_border=0,
           x_axis_type=None, y_axis_type=None)
p.grid.visible = False
p.outline_line_color = None
p.background_fill_color = "white"
p.border_fill_color = "white"

# data ranges mapped onto the plot frames
kx = (x_ticks[-1] - x_ticks[0]) / (FR - FL)
p.extra_x_ranges = {"dx": Range1d(x_ticks[0] - (FL - X0) * kx, x_ticks[-1] + (X0 + W - FR) * kx)}
top_lo, top_hi = top_y_ticks[0], top_y_ticks[-1]      # -4 at top, 3 at bottom
ky1 = (top_hi - top_lo) / (B1 - T1)
p.extra_y_ranges = {
    "ty": Range1d(top_lo + (Y0 + H - T1) * ky1, top_lo + (Y0 - T1) * ky1),
}
bot_hi, bot_lo = bot_y_ticks[0], bot_y_ticks[-1]      # 4 at top, -3 at bottom
ky2 = (bot_hi - bot_lo) / (B2 - T2)
p.extra_y_ranges["by"] = Range1d(bot_hi - (Y0 + H - T2) * ky2, bot_hi - (Y0 - T2) * ky2)

# ---------------- window chrome ----------------
p.quad(left=35, right=1900, top=19, bottom=1300, fill_color="#ececec", line_color=None)
# panel
p.quad(left=45.6, right=1900, top=89, bottom=1199, fill_color="#ededed", line_color="#c3c3c3", line_width=1.2)
# tabs
for i, lab in enumerate(tab_labels):
    l, r = tab_edges[i], tab_edges[i + 1]
    if lab == selected_tab:
        continue
    p.quad(left=l, right=r, top=32, bottom=89, fill_color="#dcdcdc", line_color="#bababa", line_width=1.2)
    p.quad(left=l + 1, right=r - 1, top=33, bottom=50, fill_color="#e3e3e3", line_color=None)
for i, lab in enumerate(tab_labels):
    if lab != selected_tab:
        continue
    l, r = tab_edges[i], tab_edges[i + 1]
    p.quad(left=l, right=r, top=29, bottom=90, fill_color="#f0f0f0", line_color="#bababa", line_width=1.2)
    p.quad(left=l + 1, right=r - 1, top=88, bottom=92, fill_color="#ededed", line_color=None)
tx = [(tab_edges[i] + tab_edges[i + 1]) / 2 for i in range(len(tab_labels))]
ty = [60 if lab == selected_tab else 62 for lab in tab_labels]
p.text(x=tx, y=ty, text=tab_labels, text_font=value(FONT_UI), text_font_size="27.5px",
       text_color="#3c3c3c", text_align="center", text_baseline="middle")

# matplotlib canvas
p.quad(left=57.6, right=1900, top=101, bottom=1116, fill_color="#bfbfbf", line_color=None)

# button + status line
p.quad(left=1731, right=1900, top=1139, bottom=1186, fill_color="#f4f4f4", line_color="#9d9d9d", line_width=1.2)
p.text(x=[1740], y=[1163], text=[button_label], text_font=value(FONT_UI), text_font_size="25px",
       text_color="#333333", text_align="left", text_baseline="middle")
p.segment(x0=[35], y0=[1216], x1=[1900], y1=[1216], line_color="#a8a8a8", line_width=1.5)
p.segment(x0=[35], y0=[1216], x1=[35], y1=[1240], line_color="#a8a8a8", line_width=1.5)

# white plot areas
p.quad(left=[FL, FL], right=[FR, FR], top=[T1, T2], bottom=[B1, B2], fill_color="white", line_color=None)

# ---------------- data lines ----------------
def xy(pairs):
    return [a for a, _ in pairs], [b for _, b in pairs]

bx, by = xy(top_blue)
gx, gy = xy(top_green)
p.line(bx, by, x_range_name="dx", y_range_name="ty", line_color=BLUE, line_width=1.6)
p.line(gx, gy, x_range_name="dx", y_range_name="ty", line_color=GREEN, line_width=1.6)
bx, by = xy(bot_blue)
gx, gy = xy(bot_green)
p.line(bx, by, x_range_name="dx", y_range_name="by", line_color=BLUE, line_width=1.6)
p.line(gx, gy, x_range_name="dx", y_range_name="by", line_color=GREEN, line_width=1.6)

# ---------------- axes (frames, inward ticks, labels) ----------------
TICK = 7.0
def fmt(v):
    return ("\u2212%d" % -v) if v < 0 else "%d" % v

for yname, yt, ylo_edge, yhi_edge, ky in (("ty", top_y_ticks, top_hi, top_lo, ky1),
                                          ("by", bot_y_ticks, bot_lo, bot_hi, ky2)):
    # ylo_edge = value at bottom edge, yhi_edge = value at top edge
    sgn = 1 if yhi_edge > ylo_edge else -1
    dy = TICK * ky * sgn
    dx = TICK * kx
    xs = x_ticks
    p.segment(x0=xs, y0=[ylo_edge] * len(xs), x1=xs, y1=[ylo_edge + dy] * len(xs),
              x_range_name="dx", y_range_name=yname, line_color="black", line_width=1)
    p.segment(x0=xs, y0=[yhi_edge] * len(xs), x1=xs, y1=[yhi_edge - dy] * len(xs),
              x_range_name="dx", y_range_name=yname, line_color="black", line_width=1)
    p.segment(x0=[x_ticks[0]] * len(yt), y0=yt, x1=[x_ticks[0] + dx] * len(yt), y1=yt,
              x_range_name="dx", y_range_name=yname, line_color="black", line_width=1)
    p.segment(x0=[x_ticks[-1]] * len(yt), y0=yt, x1=[x_ticks[-1] - dx] * len(yt), y1=yt,
              x_range_name="dx", y_range_name=yname, line_color="black", line_width=1)
    p.quad(left=[x_ticks[0]], right=[x_ticks[-1]], top=[yhi_edge], bottom=[ylo_edge],
           x_range_name="dx", y_range_name=yname, fill_alpha=0, line_color="black", line_width=1.4)
    p.text(x=xs, y=[ylo_edge] * len(xs), text=[fmt(v) for v in xs], x_range_name="dx", y_range_name=yname,
           text_font=value(FONT_AX), text_font_size="23px", text_color="black",
           text_align="center", text_baseline="top", y_offset=5)
    p.text(x=[x_ticks[0]] * len(yt), y=yt, text=[fmt(v) for v in yt], x_range_name="dx", y_range_name=yname,
           text_font=value(FONT_AX), text_font_size="23px", text_color="black",
           text_align="right", text_baseline="middle", x_offset=-8, y_offset=-2)

open("out.html", "w").write(file_html(p, INLINE))
